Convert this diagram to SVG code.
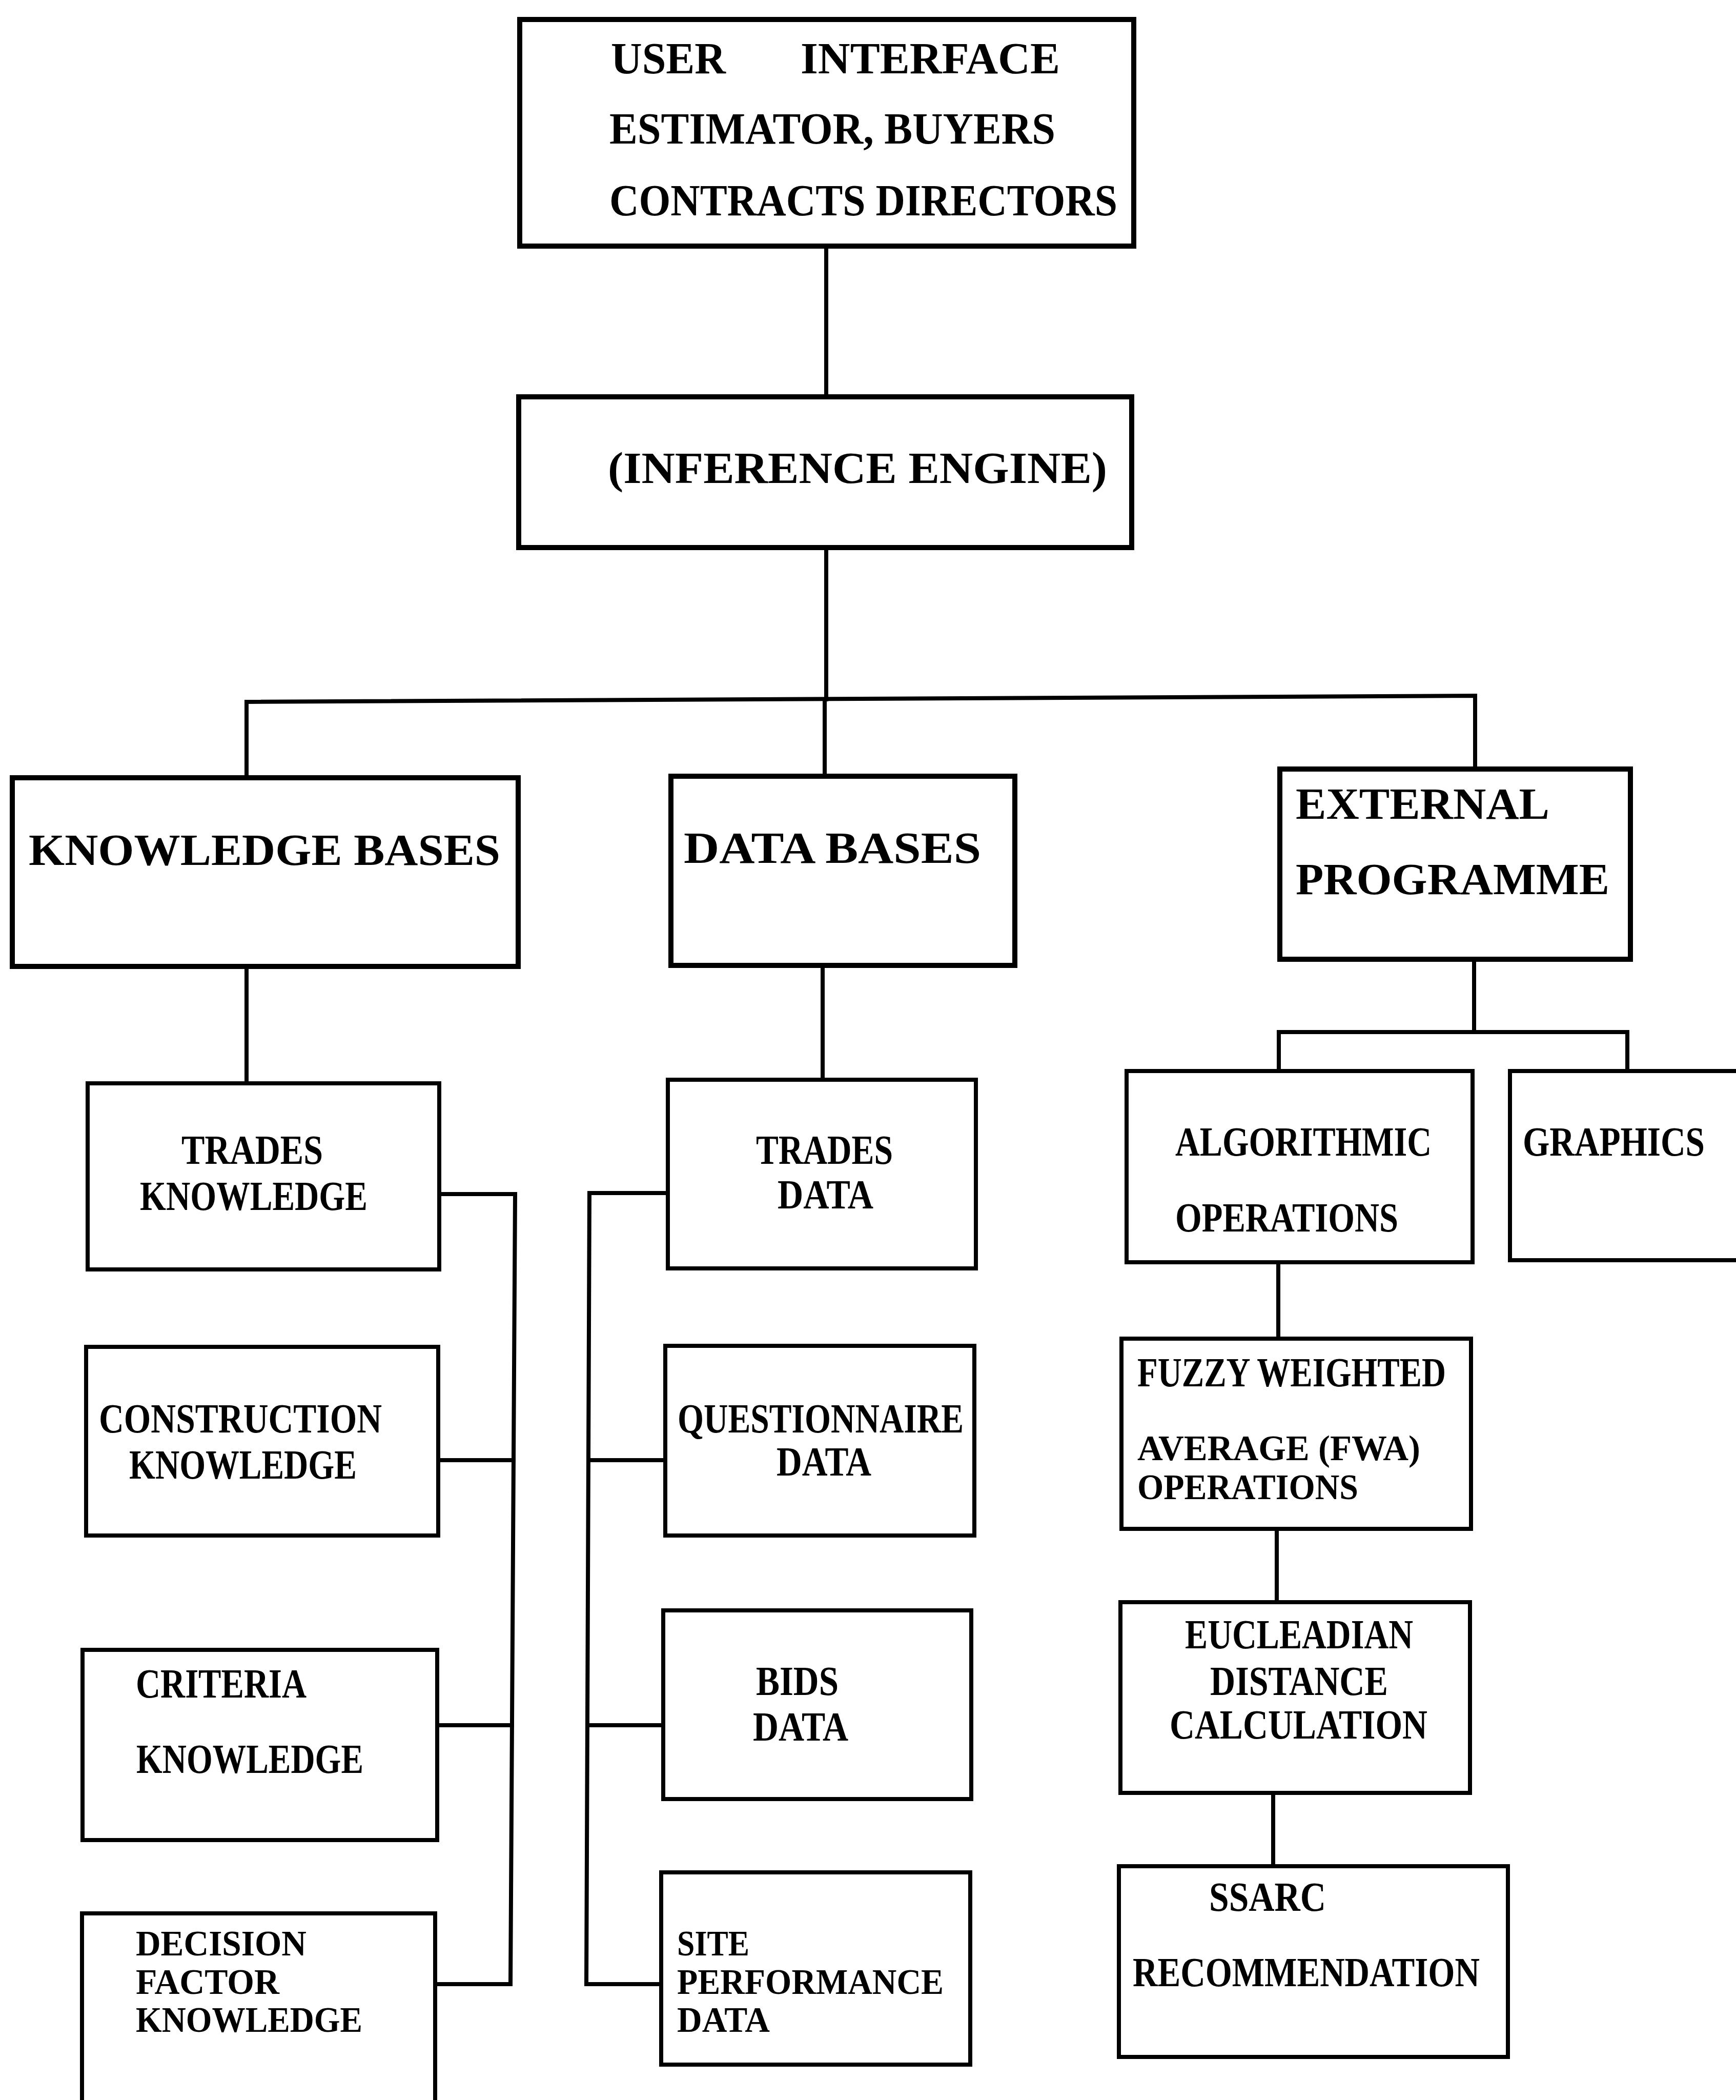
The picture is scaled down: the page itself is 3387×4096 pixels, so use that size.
<svg xmlns="http://www.w3.org/2000/svg" width="3387" height="4096" viewBox="0 0 3387 4096">
  <style>
    .box { fill: #fff; stroke: #000; stroke-width: 10; }
    .sub { fill: #fff; stroke: #000; stroke-width: 8; }
    .wire { fill: none; stroke: #000; stroke-width: 8; stroke-linecap: square; stroke-linejoin: miter; }
    .t1 { font-family: "Liberation Serif", "Times New Roman", serif; font-weight: bold; font-size: 86px; fill: #000; }
    .t2 { font-family: "Liberation Serif", "Times New Roman", serif; font-weight: bold; font-size: 80px; fill: #000; }
    .t3 { font-family: "Liberation Serif", "Times New Roman", serif; font-weight: bold; font-size: 70px; fill: #000; }
  </style>
  <rect width="3387" height="4096" fill="#fff"/>

  <!-- connectors -->
  <g id="connectors">
    <path class="wire" d="M1612 480 V774"/>
    <path class="wire" d="M1612 1068 V1364"/>
    <path class="wire" d="M481 1517 V1369 L2878 1357 V1500"/>
    <path class="wire" d="M1609 1364 V1514"/>
    <path class="wire" d="M481 1885 V2113"/>
    <path class="wire" d="M1605 1883 V2106"/>
    <path class="wire" d="M2876 1871 V2013"/>
    <path class="wire" d="M2495 2089 V2013 H3175 V2089"/>
    <!-- knowledge base side bus -->
    <path class="wire" d="M857 2329 H1005 L996 3870 H849"/>
    <path class="wire" d="M855 2848 H1002"/>
    <path class="wire" d="M853 3365 H999"/>
    <!-- data base side bus -->
    <path class="wire" d="M1303 2327 H1150 L1144 3870 H1290"/>
    <path class="wire" d="M1298 2848 H1148"/>
    <path class="wire" d="M1294 3365 H1146"/>
    <!-- algorithmic chain -->
    <path class="wire" d="M2494 2462 V2611"/>
    <path class="wire" d="M2491 2982 V3125"/>
    <path class="wire" d="M2484 3497 V3640"/>
  </g>

  <g id="user-interface">
    <rect class="box" x="1014" y="38" width="1198" height="442"/>
    <text class="t1" x="1192" y="143" textLength="224" lengthAdjust="spacingAndGlyphs">USER</text>
    <text class="t1" x="1562" y="143" textLength="506" lengthAdjust="spacingAndGlyphs">INTERFACE</text>
    <text class="t1" x="1189" y="280" textLength="870" lengthAdjust="spacingAndGlyphs">ESTIMATOR, BUYERS</text>
    <text class="t1" x="1189" y="420" textLength="991" lengthAdjust="spacingAndGlyphs">CONTRACTS DIRECTORS</text>
  </g>

  <g id="inference-engine">
    <rect class="box" x="1012" y="774" width="1196" height="294"/>
    <text class="t1" x="1186" y="942" textLength="974" lengthAdjust="spacingAndGlyphs">(INFERENCE  ENGINE)</text>
  </g>

  <g id="knowledge-bases">
    <rect class="box" x="24" y="1517" width="987" height="368"/>
    <text class="t1" x="56" y="1687" textLength="920" lengthAdjust="spacingAndGlyphs">KNOWLEDGE  BASES</text>
  </g>

  <g id="data-bases">
    <rect class="box" x="1309" y="1514" width="671" height="369"/>
    <text class="t1" x="1334" y="1683" textLength="580" lengthAdjust="spacingAndGlyphs">DATA  BASES</text>
  </g>

  <g id="external-programme">
    <rect class="box" x="2497" y="1500" width="684" height="371"/>
    <text class="t1" x="2528" y="1597" textLength="495" lengthAdjust="spacingAndGlyphs">EXTERNAL</text>
    <text class="t1" x="2528" y="1744" textLength="612" lengthAdjust="spacingAndGlyphs">PROGRAMME</text>
  </g>

  <g id="trades-knowledge">
    <rect class="sub" x="171" y="2113" width="686" height="363"/>
    <text class="t2" x="354" y="2270" textLength="276" lengthAdjust="spacingAndGlyphs">TRADES</text>
    <text class="t2" x="273" y="2360" textLength="444" lengthAdjust="spacingAndGlyphs">KNOWLEDGE</text>
  </g>

  <g id="construction-knowledge">
    <rect class="sub" x="168" y="2627" width="687" height="368"/>
    <text class="t2" x="193" y="2794" textLength="552" lengthAdjust="spacingAndGlyphs">CONSTRUCTION</text>
    <text class="t2" x="252" y="2884" textLength="444" lengthAdjust="spacingAndGlyphs">KNOWLEDGE</text>
  </g>

  <g id="criteria-knowledge">
    <rect class="sub" x="161" y="3218" width="692" height="371"/>
    <text class="t2" x="265" y="3311" textLength="333" lengthAdjust="spacingAndGlyphs">CRITERIA</text>
    <text class="t2" x="266" y="3458" textLength="443" lengthAdjust="spacingAndGlyphs">KNOWLEDGE</text>
  </g>

  <g id="decision-factor-knowledge">
    <rect class="sub" x="160" y="3732" width="689" height="420"/>
    <text class="t3" x="265" y="3814" textLength="333" lengthAdjust="spacingAndGlyphs">DECISION</text>
    <text class="t3" x="265" y="3889" textLength="280" lengthAdjust="spacingAndGlyphs">FACTOR</text>
    <text class="t3" x="265" y="3963" textLength="442" lengthAdjust="spacingAndGlyphs">KNOWLEDGE</text>
  </g>

  <g id="trades-data">
    <rect class="sub" x="1303" y="2106" width="601" height="368"/>
    <text class="t2" x="1475" y="2270" textLength="267" lengthAdjust="spacingAndGlyphs">TRADES</text>
    <text class="t2" x="1517" y="2357" textLength="187" lengthAdjust="spacingAndGlyphs">DATA</text>
  </g>

  <g id="questionnaire-data">
    <rect class="sub" x="1298" y="2625" width="603" height="370"/>
    <text class="t2" x="1322" y="2794" textLength="558" lengthAdjust="spacingAndGlyphs">QUESTIONNAIRE</text>
    <text class="t2" x="1515" y="2878" textLength="185" lengthAdjust="spacingAndGlyphs">DATA</text>
  </g>

  <g id="bids-data">
    <rect class="sub" x="1294" y="3141" width="601" height="368"/>
    <text class="t2" x="1475" y="3306" textLength="161" lengthAdjust="spacingAndGlyphs">BIDS</text>
    <text class="t2" x="1469" y="3395" textLength="186" lengthAdjust="spacingAndGlyphs">DATA</text>
  </g>

  <g id="site-performance-data">
    <rect class="sub" x="1290" y="3652" width="603" height="375"/>
    <text class="t3" x="1321" y="3814" textLength="141" lengthAdjust="spacingAndGlyphs">SITE</text>
    <text class="t3" x="1321" y="3889" textLength="520" lengthAdjust="spacingAndGlyphs">PERFORMANCE</text>
    <text class="t3" x="1321" y="3963" textLength="181" lengthAdjust="spacingAndGlyphs">DATA</text>
  </g>

  <g id="algorithmic-operations">
    <rect class="sub" x="2198" y="2089" width="675" height="373"/>
    <text class="t2" x="2293" y="2254" textLength="500" lengthAdjust="spacingAndGlyphs">ALGORITHMIC</text>
    <text class="t2" x="2293" y="2402" textLength="435" lengthAdjust="spacingAndGlyphs">OPERATIONS</text>
  </g>

  <g id="graphics">
    <rect class="sub" x="2946" y="2089" width="520" height="369"/>
    <text class="t2" x="2971" y="2254" textLength="355" lengthAdjust="spacingAndGlyphs">GRAPHICS</text>
  </g>

  <g id="fwa-operations">
    <rect class="sub" x="2188" y="2611" width="682" height="371"/>
    <text class="t2" x="2219" y="2704" textLength="602" lengthAdjust="spacingAndGlyphs">FUZZY WEIGHTED</text>
    <text class="t3" x="2219" y="2848" textLength="552" lengthAdjust="spacingAndGlyphs">AVERAGE (FWA)</text>
    <text class="t3" x="2219" y="2924" textLength="431" lengthAdjust="spacingAndGlyphs">OPERATIONS</text>
  </g>

  <g id="eucleadian-distance">
    <rect class="sub" x="2186" y="3125" width="682" height="372"/>
    <text class="t2" x="2312" y="3215" textLength="445" lengthAdjust="spacingAndGlyphs">EUCLEADIAN</text>
    <text class="t2" x="2361" y="3306" textLength="347" lengthAdjust="spacingAndGlyphs">DISTANCE</text>
    <text class="t2" x="2282" y="3391" textLength="503" lengthAdjust="spacingAndGlyphs">CALCULATION</text>
  </g>

  <g id="ssarc-recommendation">
    <rect class="sub" x="2183" y="3640" width="759" height="372"/>
    <text class="t2" x="2359" y="3727" textLength="228" lengthAdjust="spacingAndGlyphs">SSARC</text>
    <text class="t2" x="2210" y="3874" textLength="677" lengthAdjust="spacingAndGlyphs">RECOMMENDATION</text>
  </g>
</svg>
